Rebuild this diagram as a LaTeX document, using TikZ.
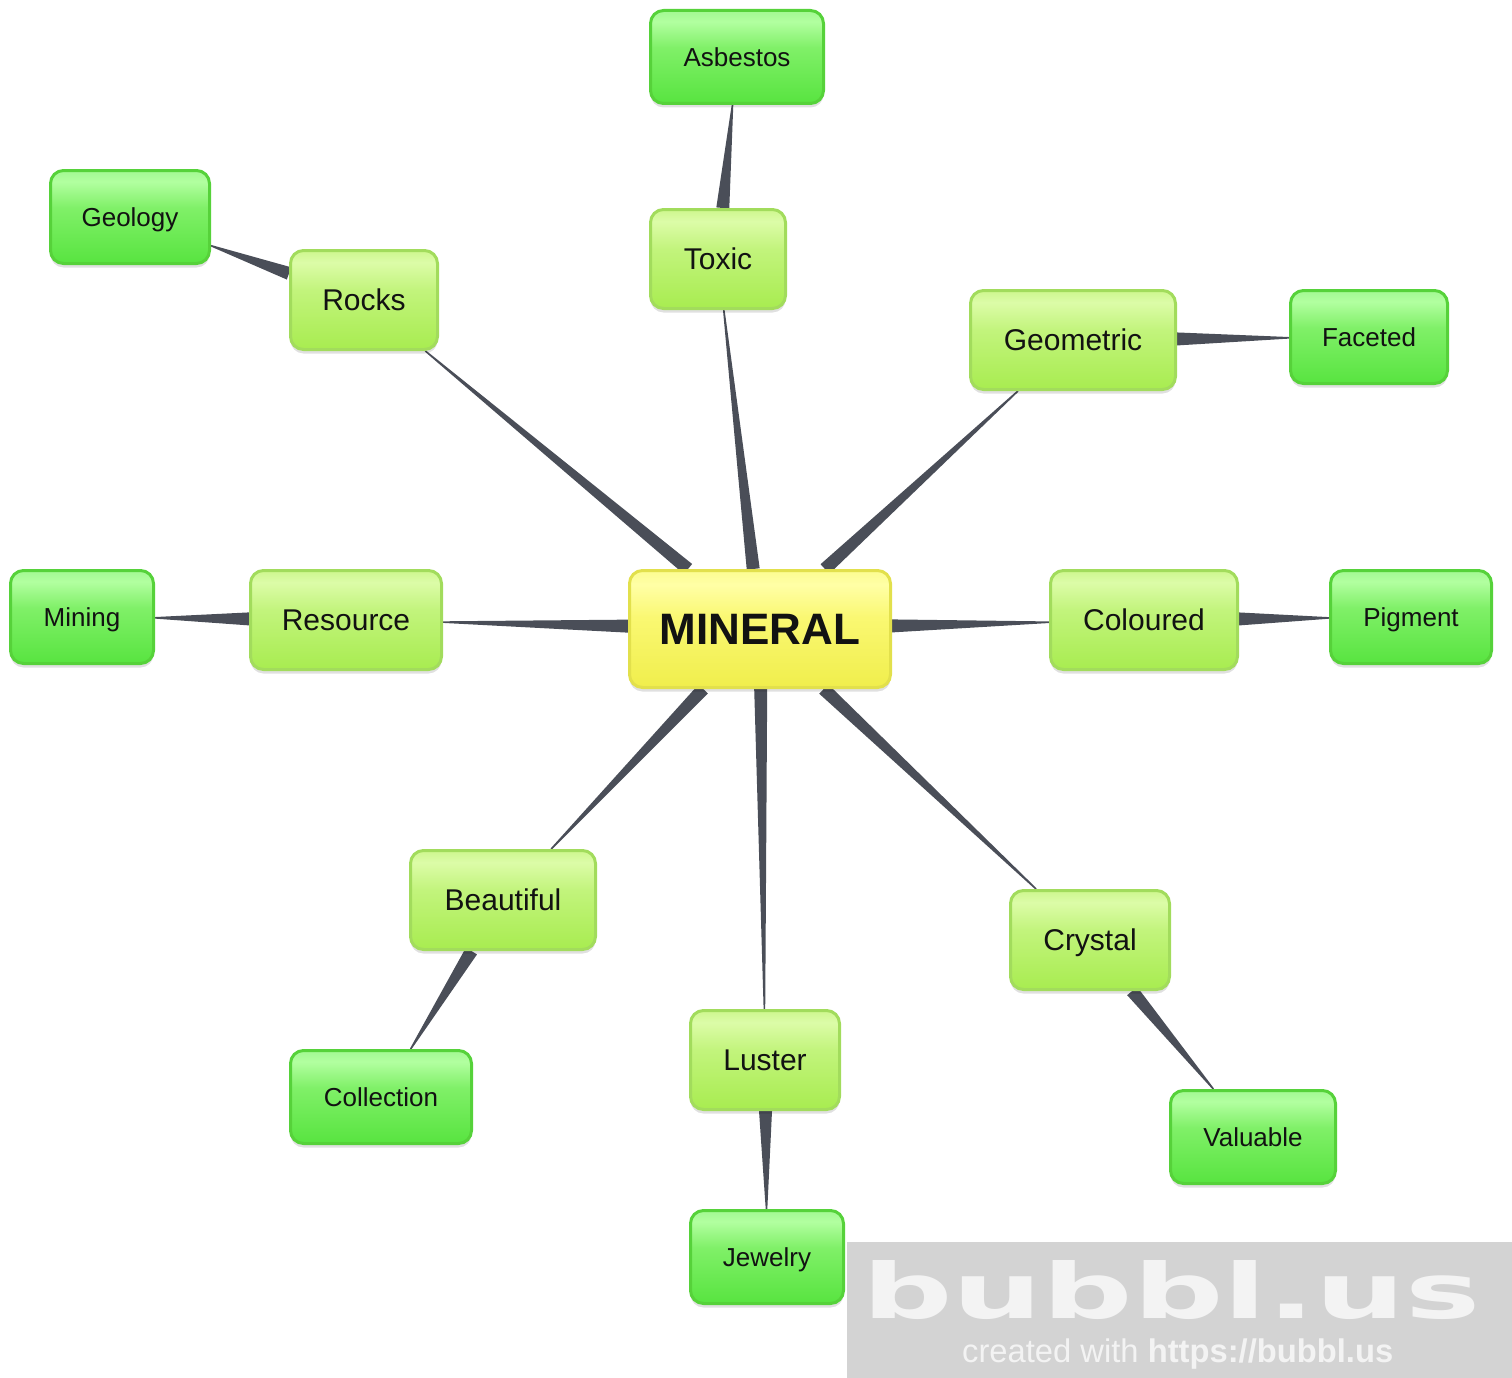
\documentclass[tikz,border=0pt]{standalone}
\usepackage{fontspec}
\setmainfont{Liberation Sans}
\newfontfamily\wmfont{DejaVu Sans}
\usetikzlibrary{calc,backgrounds,shadows}
\definecolor{edgec}{HTML}{4A4E58}
\definecolor{rootbd}{HTML}{E2E04C}
\definecolor{rt}{HTML}{FCFC90}
\definecolor{rh}{HTML}{FFFFA6}
\definecolor{rm}{HTML}{FAF872}
\definecolor{rb}{HTML}{F0EE4C}
\definecolor{onebd}{HTML}{A2DC5C}
\definecolor{ot}{HTML}{CEF78E}
\definecolor{oh}{HTML}{DCFCA8}
\definecolor{om}{HTML}{C2F47C}
\definecolor{ob}{HTML}{A8EC50}
\definecolor{twobd}{HTML}{56D23A}
\definecolor{tt}{HTML}{A2F892}
\definecolor{th}{HTML}{B2FFA0}
\definecolor{tm}{HTML}{80F068}
\definecolor{tb}{HTML}{58E440}
\definecolor{wmgray}{HTML}{D3D3D3}
\definecolor{wmtext}{HTML}{F3F3F3}
\pgfdeclareverticalshading{rootsh}{100bp}{color(0bp)=(rb); color(25bp)=(rb); color(55bp)=(rm); color(69bp)=(rh); color(75bp)=(rt); color(100bp)=(rt)}
\pgfdeclareverticalshading{onesh}{100bp}{color(0bp)=(ob); color(25bp)=(ob); color(55bp)=(om); color(69bp)=(oh); color(75bp)=(ot); color(100bp)=(ot)}
\pgfdeclareverticalshading{twosh}{100bp}{color(0bp)=(tb); color(25bp)=(tb); color(55bp)=(tm); color(69bp)=(th); color(75bp)=(tt); color(100bp)=(tt)}
\newcommand\taper[2]{%
  \path (#1) -- (#2) coordinate[pos=0] (ts) coordinate[pos=1] (te);
  \fill[edgec] ($(ts)!6.5pt!90:(te)$) -- ($(te)!0.8pt!-90:(ts)$) -- ($(te)!0.8pt!90:(ts)$) -- ($(ts)!6.5pt!-90:(te)$) -- cycle;}
\tikzset{
  boxbase/.style={line width=3pt, rounded corners=13pt, text=black!93, inner sep=0pt, text depth=0pt,
    drop shadow={shadow xshift=0pt, shadow yshift=-4pt, opacity=0.12, fill=black}},
  rootbox/.style={boxbase, draw=rootbd, shading=rootsh, minimum width=261pt, minimum height=117pt,
    font=\fontsize{44}{50}\selectfont\bfseries, text height=31.5pt},
  onebox/.style={boxbase, draw=onebd, shading=onesh, minimum height=99pt,
    font=\fontsize{30}{34}\selectfont, text height=21.5pt},
  twobox/.style={boxbase, draw=twobd, shading=twosh, minimum height=93pt,
    font=\fontsize{26}{30}\selectfont, text height=18.6pt},
}
\begin{document}
\begin{tikzpicture}[x=1pt,y=-1pt]
\useasboundingbox (0,0) rectangle (1512,1378);
% nodes
\node[rootbox] (root) at (760,629) {MINERAL};
\node[onebox, minimum width=135pt] (toxic) at (718,259) {Toxic};
\node[twobox, minimum width=173pt] (asb) at (737,57) {Asbestos};
\node[onebox, minimum width=147pt] (rocks) at (364,300) {Rocks};
\node[twobox, minimum width=159pt] (geo) at (130,217) {Geology};
\node[onebox, minimum width=205pt] (geom) at (1073,340) {Geometric};
\node[twobox, minimum width=157pt] (fac) at (1369,337) {Faceted};
\node[onebox, minimum width=191pt] (res) at (346,620) {Resource};
\node[twobox, minimum width=143pt] (min) at (82,617) {Mining};
\node[onebox, minimum width=187pt] (col) at (1144,620) {Coloured};
\node[twobox, minimum width=161pt] (pig) at (1411,617) {Pigment};
\node[onebox, minimum width=185pt] (beau) at (503,900) {Beautiful};
\node[twobox, minimum width=181pt] (coll) at (381,1097) {Collection};
\node[onebox, minimum width=149pt] (lus) at (765,1060) {Luster};
\node[twobox, minimum width=153pt] (jew) at (767,1257) {Jewelry};
\node[onebox, minimum width=159pt] (cry) at (1090,940) {Crystal};
\node[twobox, minimum width=165pt] (val) at (1253,1137) {Valuable};
% connectors
\begin{scope}[on background layer]
\taper{root}{toxic}
\taper{toxic}{asb}
\taper{root}{rocks}
\taper{rocks}{geo}
\taper{root}{geom}
\taper{geom}{fac}
\taper{root}{res}
\taper{res}{min}
\taper{root}{col}
\taper{col}{pig}
\taper{root}{beau}
\taper{beau}{coll}
\taper{root}{lus}
\taper{lus}{jew}
\taper{root}{cry}
\taper{cry}{val}
\end{scope}
% watermark
\fill[wmgray] (847,1242) rectangle (1512,1378);
\node[anchor=south west, inner sep=0pt, text=wmtext] (wmbig) at (862,1320)
  {\resizebox{618pt}{58pt}{\wmfont\bfseries bubbl.us}};
\node[anchor=base west, inner sep=0pt, text=wmtext] (wmsmall) at (962,1362)
  {\resizebox{431pt}{!}{\fontsize{30}{34}\selectfont created with \textbf{https://bubbl.us}}};
\end{tikzpicture}
\end{document}
